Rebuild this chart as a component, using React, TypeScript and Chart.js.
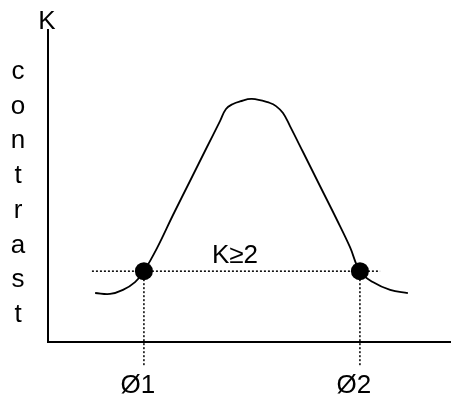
import React, { useEffect, useRef } from "react";
import { Chart, registerables } from "chart.js";

Chart.register(...registerables);

// ---- data ----
const curvePhi = [11.7, 15.4, 18.6, 21.6, 23.8, 27.05, 31.02, 35.24, 39.45, 42.68, 44.17, 45.91, 47.64, 50.6, 55.09, 56.58, 58.31, 60.05, 63.28, 67.49, 71.71, 74.94, 77.4, 80.6, 84.9, 89.3];
const curveK = [1.57, 1.54, 1.67, 1.92, 2.27, 3.01, 4.07, 5.16, 6.25, 7.08, 7.47, 7.63, 7.71, 7.79, 7.66, 7.56, 7.34, 6.92, 6.09, 5.0, 3.91, 3.04, 2.27, 1.92, 1.67, 1.57];
const thresholdK = 2.27;
const thresholdPhiRange = [10.9, 82.4];
const phiPoints = [23.8, 77.4];
const phiLabels = ["Ø1", "Ø2"];
const dropBottomK = -0.8;
const thresholdLabel = "K≥2";
const thresholdLabelPhi = 46.4;
const thresholdLabelK = 2.53;
const axisTitle = "K";
const yTitleLetters = ["c", "o", "n", "t", "r", "a", "s", "t"];

const FONT = "'Liberation Sans', Arial, sans-serif";

export default function App() {
  const ref = useRef<HTMLCanvasElement>(null);

  useEffect(() => {
    if (!ref.current) return;

    const textPlugin = {
      id: "texts",
      afterDraw(chart: any) {
        const ctx = chart.ctx;
        const xs = chart.scales.x;
        const ys = chart.scales.y;
        ctx.save();
        ctx.fillStyle = "#000";
        ctx.font = `26px ${FONT}`;
        ctx.textAlign = "center";
        ctx.textBaseline = "alphabetic";
        ctx.fillText(axisTitle, xs.left - 1, ys.top - 1);
        yTitleLetters.forEach((ch, i) => {
          ctx.fillText(ch, 18, 79 + i * 34.7);
        });
        ctx.fillText(
          thresholdLabel,
          xs.getPixelForValue(thresholdLabelPhi),
          ys.getPixelForValue(thresholdLabelK)
        );
        phiPoints.forEach((p, i) => {
          ctx.fillText(phiLabels[i], xs.getPixelForValue(p) - 6, ys.bottom + 51);
        });
        ctx.restore();
      },
    };

    const dropSets = phiPoints.map((p) => ({
      data: [
        { x: p, y: thresholdK },
        { x: p, y: dropBottomK },
      ],
      borderColor: "#000",
      borderWidth: 1.5,
      borderDash: [2, 2],
      pointRadius: 0,
      clip: false as any,
      fill: false,
    }));

    const chart = new Chart(ref.current, {
      type: "line",
      data: {
        datasets: [
          {
            data: phiPoints.map((p) => ({ x: p, y: thresholdK })),
            showLine: false,
            pointRadius: 9,
            pointBackgroundColor: "#000",
            pointBorderColor: "#000",
            pointBorderWidth: 0,
          } as any,
          {
            data: curvePhi.map((p, i) => ({ x: p, y: curveK[i] })),
            borderColor: "#000",
            borderWidth: 1.8,
            pointRadius: 0,
            tension: 0.4,
            fill: false,
          },
          {
            data: thresholdPhiRange.map((p) => ({ x: p, y: thresholdK })),
            borderColor: "#000",
            borderWidth: 1.5,
            borderDash: [2, 2],
            pointRadius: 0,
            fill: false,
          },
          ...dropSets,
        ] as any,
      },
      options: {
        responsive: false,
        animation: false,
        layout: { autoPadding: false, padding: { left: 48, top: 30, right: 0, bottom: 61 } },
        plugins: {
          legend: { display: false },
          tooltip: { enabled: false },
        },
        scales: {
          x: {
            type: "linear",
            min: 0,
            max: 100,
            grid: { display: false, drawTicks: false },
            border: { display: true, color: "#000", width: 2 },
            ticks: { display: false },
          },
          y: {
            type: "linear",
            min: 0,
            max: 10,
            grid: { display: false, drawTicks: false },
            border: { display: true, color: "#000", width: 2 },
            ticks: { display: false },
          },
        },
      },
      plugins: [textPlugin],
    } as any);

    return () => chart.destroy();
  }, []);

  return (
    <div style={{ position: "fixed", left: 0, top: 0, width: 451, height: 403, background: "#fff" }}>
      <canvas ref={ref} width={451} height={403} style={{ display: "block" }} />
    </div>
  );
}
